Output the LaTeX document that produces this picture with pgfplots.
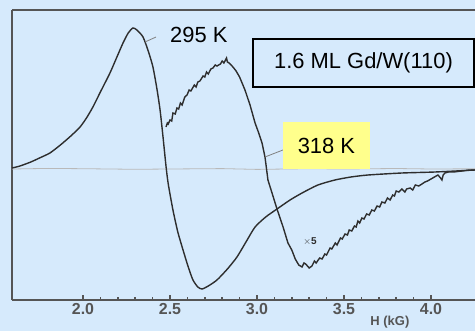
\documentclass[border=0pt]{standalone}
\usepackage{pgfplots}
\pgfplotsset{compat=1.18}
\usepackage{fontspec}
\setmainfont{Liberation Sans}
\definecolor{bgblue}{HTML}{D6EAFC}
\definecolor{curve}{HTML}{2E2E2E}
\definecolor{axgray}{HTML}{555555}
\definecolor{lblyellow}{HTML}{FFFF8C}
\begin{document}
\begin{tikzpicture}
\fill[bgblue] (-12bp,-31bp) rectangle (463bp,300bp);
\useasboundingbox (-12bp,-31bp) rectangle (463bp,300bp);
\begin{axis}[
  at={(0,0)}, anchor=south west,
  scale only axis, width=463bp, height=290bp,
  xmin=1.592, xmax=4.253, ymin=-131, ymax=159,
  axis x line*=box, axis y line*=left,
  axis line style={axgray, line width=1.5bp},
  xtick={2,2.5,3,3.5,4},
  xticklabels={2.0,2.5,3.0,3.5,4.0},
  minor x tick num=4,
  xtick pos=bottom,
  tick align=inside,
  major tick length=5bp, minor tick length=2.5bp,
  every tick/.style={axgray, line width=1.5bp},
  ytick=\empty,
  xticklabel style={font=\fontsize{16}{16}\selectfont\bfseries, text=axgray, yshift=0bp},
  clip=false,
]
\addplot[gray!55, line width=0.8bp] coordinates {
(1.592,0) (1.8,0.6) (2.0,0.3) (2.3,-0.3) (2.5,0) (2.8,0.4) (3.0,-0.4) (3.3,0.3) (3.5,0) (3.8,0.5) (4.0,0) (4.253,0.2)
};
\addplot[curve, line width=1.4bp, smooth, tension=0.4] coordinates {
(1.592,1) (1.638,3) (1.70,7) (1.75,11) (1.810,16) (1.87,24) (1.93,33) (1.983,42) (2.02,51) (2.057,62) (2.10,77) (2.155,96) (2.19,110) (2.230,126) (2.26,136) (2.287,141) (2.31,139) (2.345,132) (2.375,118) (2.402,102) (2.425,80) (2.443,59) (2.46,32) (2.477,3) (2.49,-15) (2.517,-41) (2.545,-63) (2.575,-81) (2.605,-98) (2.632,-111) (2.66,-118) (2.684,-120) (2.72,-117) (2.770,-111) (2.83,-100) (2.885,-88) (2.94,-72) (2.989,-58) (3.05,-48) (3.115,-40) (3.19,-31) (3.259,-24) (3.35,-16) (3.448,-11) (3.54,-8) (3.638,-6) (3.833,-4) (4.023,-3) (4.253,-1)
};
\addplot[curve, line width=1.4bp] coordinates {
(2.477,42) (2.485,46) (2.49,45) (2.50,49) (2.51,48) (2.517,56) (2.53,55) (2.54,61) (2.55,60) (2.56,66) (2.57,64) (2.585,72) (2.598,74) (2.61,79) (2.62,78) (2.64,84) (2.65,82) (2.66,87) (2.672,88) (2.69,93) (2.70,92) (2.71,97) (2.72,95) (2.735,100) (2.747,101) (2.76,104) (2.77,103) (2.79,105) (2.80,108) (2.81,106) (2.816,108) (2.825,111) (2.83,107) (2.84,106) (2.862,102) (2.88,98) (2.90,92) (2.931,79) (2.96,64) (2.989,46) (3.01,36) (3.029,26) (3.046,12) (3.063,-11) (3.09,-26) (3.115,-40) (3.15,-58) (3.178,-74) (3.20,-81) (3.22,-90) (3.24,-96) (3.259,-98) (3.27,-94) (3.28,-95) (3.30,-99) (3.316,-97) (3.33,-92) (3.34,-94) (3.36,-89) (3.374,-90) (3.39,-85) (3.40,-86) (3.42,-79) (3.43,-80) (3.45,-74) (3.46,-76) (3.48,-69) (3.49,-70) (3.506,-65) (3.52,-66) (3.53,-61) (3.545,-62) (3.56,-57) (3.57,-58) (3.58,-52) (3.59,-54) (3.603,-49) (3.615,-50) (3.63,-45) (3.645,-46) (3.66,-41) (3.675,-42) (3.69,-37) (3.705,-38) (3.718,-33) (3.735,-34) (3.75,-29) (3.765,-31) (3.78,-26) (3.79,-27) (3.80,-22) (3.815,-23) (3.833,-20) (3.85,-23) (3.86,-20) (3.88,-19) (3.895,-21) (3.91,-16) (3.93,-17) (3.948,-15) (3.965,-13) (3.98,-12) (4.00,-10) (4.02,-8) (4.04,-6) (4.055,-9) (4.063,-11) (4.07,-6) (4.08,-4) (4.10,-3) (4.13,-3) (4.178,-2) (4.22,-1) (4.253,-1)
};
% labels
\draw[gray, line width=0.8bp] (axis cs:2.356,127) -- (axis cs:2.420,132);
\node[anchor=west, inner sep=0pt, font=\fontsize{22}{22}\selectfont] at (axis cs:2.5,134) {295 K};
\draw[black, line width=1.2bp] (axis cs:2.977,130) rectangle (axis cs:4.247,82);
\node[font=\fontsize{22}{22}\selectfont] at (axis cs:3.612,106) {1.6 ML Gd/W(110)};
\draw[gray, line width=0.8bp] (axis cs:3.046,12) -- (axis cs:3.149,19);
\fill[lblyellow] (axis cs:3.149,47) rectangle (axis cs:3.649,0);
\node[font=\fontsize{22}{22}\selectfont] at (axis cs:3.399,23) {318 K};
\node[font=\fontsize{10}{10}\selectfont\bfseries, text=curve] at (axis cs:3.305,-72) {$\times$5};
\node[font=\fontsize{13}{13}\selectfont\bfseries, text=axgray, inner sep=0pt] at (axis cs:3.764,-153) {H (kG)};
\end{axis}
\end{tikzpicture}
\end{document}
